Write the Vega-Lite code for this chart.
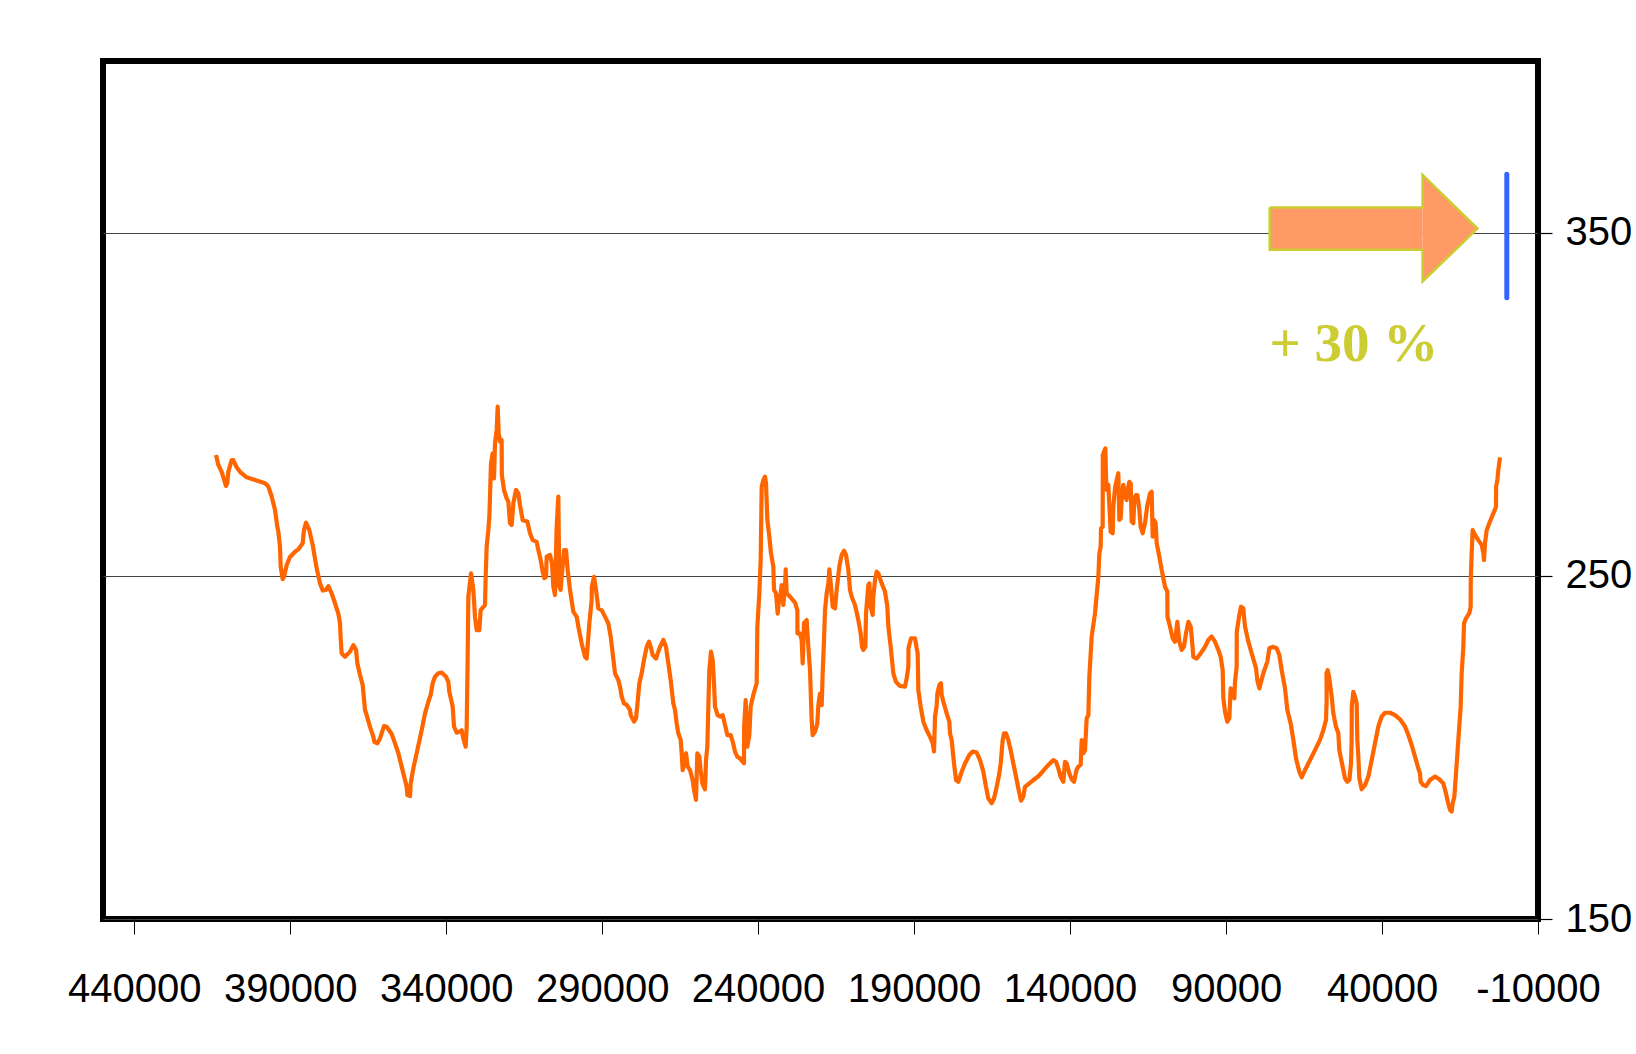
{
  "$schema": "https://vega.github.io/schema/vega-lite/v6.json",
  "width": 1435,
  "height": 858,
  "autosize": "none",
  "padding": {"left": 103, "top": 61, "right": 98, "bottom": 135},
  "background": "white",
  "config": {
    "view": {"stroke": "black", "strokeWidth": 6},
    "axis": {"labelFont": "Liberation Sans, Arial, sans-serif", "labelFontSize": 40, "labelColor": "black", "tickColor": "black", "domain": false, "title": null}
  },
  "datasets": {
    "co2": [
      {"age":413777,"co2":285.2},{"age":413029,"co2":282.3},{"age":411960,"co2":280.3},{"age":410571,"co2":276.2},{"age":410144,"co2":277.0},{"age":409823,"co2":280.3},{"age":408755,"co2":283.7},{"age":408220,"co2":283.7},{"age":407152,"co2":281.6},{"age":406083,"co2":280.3},{"age":403946,"co2":278.7},{"age":401275,"co2":277.9},{"age":398069,"co2":277.0},{"age":397001,"co2":276.0},{"age":395932,"co2":273.1},{"age":394864,"co2":269.2},{"age":394116,"co2":264.3},{"age":393795,"co2":262.9},{"age":393261,"co2":258.5},{"age":393047,"co2":252.7},{"age":392406,"co2":249.0},{"age":391978,"co2":249.7},{"age":391124,"co2":253.1},{"age":390055,"co2":255.5},{"age":388452,"co2":257.0},{"age":387384,"co2":257.7},{"age":385995,"co2":259.5},{"age":385567,"co2":263.3},{"age":384926,"co2":265.5},{"age":383858,"co2":263.3},{"age":382789,"co2":259.0},{"age":381507,"co2":252.2},{"age":380438,"co2":247.8},{"age":379583,"co2":245.7},{"age":378515,"co2":245.9},{"age":377767,"co2":247.0},{"age":376698,"co2":244.9},{"age":375630,"co2":242.0},{"age":374561,"co2":239.0},{"age":374027,"co2":236.2},{"age":373813,"co2":231.8},{"age":373493,"co2":227.4},{"age":372424,"co2":226.4},{"age":370821,"co2":227.9},{"age":369753,"co2":229.8},{"age":368898,"co2":228.5},{"age":368471,"co2":224.5},{"age":367616,"co2":221.1},{"age":366761,"co2":218.2},{"age":366013,"co2":210.9},{"age":365479,"co2":209.4},{"age":364410,"co2":206.0},{"age":363342,"co2":203.1},{"age":363021,"co2":201.6},{"age":362059,"co2":201.2},{"age":361204,"co2":202.6},{"age":359922,"co2":206.2},{"age":359067,"co2":206.0},{"age":357465,"co2":203.9},{"age":356396,"co2":201.2},{"age":355328,"co2":198.3},{"age":354259,"co2":194.4},{"age":353191,"co2":190.5},{"age":352657,"co2":188.5},{"age":352443,"co2":186.1},{"age":351588,"co2":185.8},{"age":351374,"co2":189.5},{"age":350519,"co2":193.9},{"age":349237,"co2":199.2},{"age":347848,"co2":205.0},{"age":346779,"co2":209.9},{"age":345711,"co2":213.3},{"age":344963,"co2":215.3},{"age":344322,"co2":218.7},{"age":343574,"co2":220.6},{"age":342506,"co2":221.6},{"age":341437,"co2":221.8},{"age":340048,"co2":220.6},{"age":339300,"co2":219.1},{"age":338980,"co2":216.2},{"age":337911,"co2":211.9},{"age":337484,"co2":206.1},{"age":336629,"co2":204.3},{"age":335560,"co2":204.6},{"age":335026,"co2":205.0},{"age":334491,"co2":202.6},{"age":333743,"co2":200.2},{"age":333420,"co2":206.0},{"age":333100,"co2":226.4},{"age":332889,"co2":243.9},{"age":332034,"co2":250.7},{"age":331286,"co2":245.9},{"age":330752,"co2":238.1},{"age":330218,"co2":234.2},{"age":329363,"co2":234.2},{"age":328935,"co2":240.0},{"age":327546,"co2":241.5},{"age":327332,"co2":249.8},{"age":327012,"co2":258.5},{"age":326477,"co2":263.3},{"age":326157,"co2":267.2},{"age":325943,"co2":273.1},{"age":325623,"co2":282.8},{"age":325088,"co2":285.7},{"age":324661,"co2":278.4},{"age":324340,"co2":288.6},{"age":323806,"co2":292.5},{"age":323486,"co2":299.3},{"age":323165,"co2":291.5},{"age":322737,"co2":289.1},{"age":322203,"co2":289.6},{"age":322150,"co2":279.4},{"age":321455,"co2":275.0},{"age":320600,"co2":272.6},{"age":320066,"co2":271.6},{"age":319532,"co2":265.3},{"age":318997,"co2":264.8},{"age":318463,"co2":271.1},{"age":317608,"co2":275.0},{"age":316860,"co2":274.0},{"age":316326,"co2":270.6},{"age":315471,"co2":266.2},{"age":313975,"co2":265.8},{"age":313120,"co2":262.4},{"age":312265,"co2":260.4},{"age":310983,"co2":259.9},{"age":310449,"co2":257.5},{"age":309701,"co2":254.6},{"age":309060,"co2":251.2},{"age":308525,"co2":249.3},{"age":307991,"co2":249.7},{"age":307777,"co2":255.6},{"age":306709,"co2":256.1},{"age":306068,"co2":253.6},{"age":305640,"co2":246.8},{"age":305106,"co2":244.4},{"age":304572,"co2":264.3},{"age":304038,"co2":273.1},{"age":303716,"co2":246.8},{"age":303289,"co2":245.9},{"age":302968,"co2":249.7},{"age":302220,"co2":257.5},{"age":301579,"co2":257.5},{"age":301045,"co2":251.7},{"age":300297,"co2":245.9},{"age":299228,"co2":239.5},{"age":298160,"co2":238.1},{"age":297625,"co2":235.2},{"age":296557,"co2":230.3},{"age":295489,"co2":226.4},{"age":294955,"co2":225.9},{"age":294100,"co2":236.1},{"age":293352,"co2":242.9},{"age":293300,"co2":246.8},{"age":292604,"co2":249.7},{"age":291963,"co2":245.9},{"age":291215,"co2":240.5},{"age":290147,"co2":240.0},{"age":289078,"co2":238.1},{"age":288010,"co2":236.1},{"age":287262,"co2":232.3},{"age":286620,"co2":227.4},{"age":285872,"co2":221.6},{"age":284803,"co2":219.6},{"age":284269,"co2":217.7},{"age":283735,"co2":214.8},{"age":282987,"co2":212.8},{"age":282132,"co2":212.4},{"age":281063,"co2":210.9},{"age":280849,"co2":209.4},{"age":279781,"co2":207.5},{"age":279140,"co2":208.5},{"age":278712,"co2":212.3},{"age":278071,"co2":218.7},{"age":277323,"co2":221.6},{"age":276575,"co2":225.5},{"age":275720,"co2":229.3},{"age":274972,"co2":230.8},{"age":274438,"co2":229.3},{"age":273799,"co2":226.9},{"age":272731,"co2":225.9},{"age":271449,"co2":229.3},{"age":270380,"co2":231.3},{"age":269525,"co2":229.3},{"age":269098,"co2":226.4},{"age":268778,"co2":224.5},{"age":268030,"co2":219.6},{"age":267175,"co2":212.8},{"age":266640,"co2":210.9},{"age":266106,"co2":207.0},{"age":265572,"co2":204.1},{"age":264824,"co2":202.2},{"age":264503,"co2":198.3},{"age":264183,"co2":193.4},{"age":263649,"co2":195.4},{"age":263114,"co2":198.3},{"age":262580,"co2":194.4},{"age":261832,"co2":193.4},{"age":260977,"co2":190.5},{"age":260550,"co2":187.6},{"age":259909,"co2":184.7},{"age":259482,"co2":198.3},{"age":258840,"co2":197.3},{"age":258413,"co2":193.4},{"age":257879,"co2":189.5},{"age":257024,"co2":187.8},{"age":256703,"co2":196.3},{"age":256276,"co2":200.2},{"age":255955,"co2":211.9},{"age":255634,"co2":222.5},{"age":255100,"co2":227.9},{"age":254565,"co2":225.5},{"age":254138,"co2":218.7},{"age":253817,"co2":211.9},{"age":252962,"co2":209.4},{"age":252214,"co2":209.0},{"age":251359,"co2":209.4},{"age":250611,"co2":206.5},{"age":249863,"co2":203.6},{"age":248795,"co2":203.6},{"age":248154,"co2":201.7},{"age":247406,"co2":198.8},{"age":246658,"co2":197.3},{"age":245803,"co2":196.8},{"age":244949,"co2":195.8},{"age":244521,"co2":195.4},{"age":244480,"co2":206.0},{"age":243988,"co2":213.8},{"age":243453,"co2":200.2},{"age":242812,"co2":203.6},{"age":242385,"co2":211.9},{"age":241530,"co2":215.3},{"age":240461,"co2":218.7},{"age":240247,"co2":235.2},{"age":239606,"co2":244.9},{"age":239179,"co2":254.6},{"age":238858,"co2":275.9},{"age":238324,"co2":277.9},{"age":237789,"co2":278.9},{"age":237469,"co2":276.9},{"age":237041,"co2":266.3},{"age":236400,"co2":261.4},{"age":235866,"co2":256.5},{"age":235118,"co2":252.7},{"age":234904,"co2":245.9},{"age":234263,"co2":244.9},{"age":233729,"co2":239.0},{"age":233301,"co2":242.9},{"age":232767,"co2":244.9},{"age":232446,"co2":247.3},{"age":231912,"co2":241.5},{"age":231378,"co2":246.8},{"age":231164,"co2":251.9},{"age":230843,"co2":244.9},{"age":229775,"co2":243.9},{"age":228172,"co2":242.2},{"age":227424,"co2":240.0},{"age":227380,"co2":233.2},{"age":226569,"co2":233.2},{"age":226035,"co2":231.3},{"age":225714,"co2":224.5},{"age":225287,"co2":236.2},{"age":224432,"co2":237.1},{"age":223898,"co2":229.3},{"age":223364,"co2":222.5},{"age":222829,"co2":208.0},{"age":222509,"co2":203.6},{"age":221761,"co2":204.6},{"age":221013,"co2":207.0},{"age":220692,"co2":212.3},{"age":220158,"co2":215.7},{"age":219623,"co2":212.3},{"age":219303,"co2":221.6},{"age":218876,"co2":231.3},{"age":218555,"co2":240.0},{"age":218021,"co2":244.9},{"age":217486,"co2":247.8},{"age":217166,"co2":251.9},{"age":216632,"co2":246.8},{"age":216097,"co2":241.0},{"age":215349,"co2":240.5},{"age":214815,"co2":245.9},{"age":213960,"co2":252.7},{"age":213212,"co2":256.1},{"age":212464,"co2":257.3},{"age":211823,"co2":256.1},{"age":211075,"co2":251.7},{"age":210540,"co2":245.9},{"age":210006,"co2":243.9},{"age":208938,"co2":241.5},{"age":207869,"co2":237.1},{"age":207121,"co2":233.2},{"age":206694,"co2":229.3},{"age":206267,"co2":228.4},{"age":205626,"co2":229.3},{"age":205412,"co2":239.1},{"age":204664,"co2":247.3},{"age":204343,"co2":247.8},{"age":203916,"co2":241.0},{"age":203275,"co2":238.6},{"age":203061,"co2":243.9},{"age":202527,"co2":248.8},{"age":201992,"co2":251.2},{"age":201458,"co2":250.7},{"age":200389,"co2":247.8},{"age":199321,"co2":245.4},{"age":198573,"co2":241.0},{"age":198252,"co2":235.2},{"age":197504,"co2":229.3},{"age":196649,"co2":221.5},{"age":195794,"co2":219.1},{"age":194512,"co2":217.9},{"age":192909,"co2":217.7},{"age":192375,"co2":220.1},{"age":191840,"co2":223.5},{"age":191800,"co2":228.9},{"age":190986,"co2":231.8},{"age":189704,"co2":231.8},{"age":189169,"co2":228.9},{"age":188849,"co2":227.4},{"age":188635,"co2":216.7},{"age":187887,"co2":211.9},{"age":187032,"co2":207.5},{"age":185963,"co2":205.0},{"age":184895,"co2":203.1},{"age":184040,"co2":201.2},{"age":183613,"co2":198.8},{"age":183293,"co2":208.9},{"age":182758,"co2":212.3},{"age":182544,"co2":215.7},{"age":181903,"co2":218.2},{"age":181369,"co2":218.7},{"age":181155,"co2":215.3},{"age":180620,"co2":213.3},{"age":179552,"co2":209.9},{"age":178697,"co2":207.5},{"age":178483,"co2":204.1},{"age":177949,"co2":202.1},{"age":177201,"co2":195.3},{"age":176560,"co2":190.5},{"age":175812,"co2":190.0},{"age":174744,"co2":192.9},{"age":173675,"co2":195.3},{"age":172286,"co2":197.8},{"age":171218,"co2":198.8},{"age":169935,"co2":198.5},{"age":168867,"co2":196.3},{"age":167798,"co2":192.9},{"age":166943,"co2":188.5},{"age":166195,"co2":185.1},{"age":165127,"co2":183.7},{"age":164379,"co2":185.1},{"age":163524,"co2":188.5},{"age":162669,"co2":192.4},{"age":162242,"co2":195.3},{"age":161601,"co2":202.1},{"age":161174,"co2":204.1},{"age":160533,"co2":204.1},{"age":159785,"co2":202.1},{"age":159037,"co2":199.2},{"age":158182,"co2":195.3},{"age":157114,"co2":190.5},{"age":156259,"co2":186.6},{"age":155725,"co2":184.5},{"age":154977,"co2":185.7},{"age":154442,"co2":188.5},{"age":153374,"co2":189.3},{"age":151771,"co2":190.5},{"age":150168,"co2":191.6},{"age":148565,"co2":193.2},{"age":146962,"co2":194.9},{"age":145359,"co2":196.3},{"age":144504,"co2":195.8},{"age":143756,"co2":193.9},{"age":143008,"co2":191.4},{"age":142154,"co2":190.0},{"age":141619,"co2":195.8},{"age":141085,"co2":195.3},{"age":140230,"co2":192.4},{"age":139482,"co2":190.7},{"age":138734,"co2":190.0},{"age":137880,"co2":193.6},{"age":137345,"co2":194.4},{"age":136597,"co2":194.9},{"age":136277,"co2":202.1},{"age":135743,"co2":198.3},{"age":135208,"co2":199.2},{"age":134674,"co2":208.5},{"age":134140,"co2":209.4},{"age":133821,"co2":220.6},{"age":133073,"co2":232.3},{"age":132005,"co2":239.1},{"age":130936,"co2":249.7},{"age":130616,"co2":256.5},{"age":130189,"co2":258.5},{"age":130082,"co2":263.8},{"age":129547,"co2":264.3},{"age":129500,"co2":285.2},{"age":129120,"co2":286.2},{"age":128693,"co2":287.1},{"age":128479,"co2":278.9},{"age":128265,"co2":275.0},{"age":127731,"co2":276.5},{"age":127410,"co2":270.6},{"age":126983,"co2":262.8},{"age":126342,"co2":262.4},{"age":126128,"co2":270.1},{"age":125594,"co2":275.5},{"age":125059,"co2":277.9},{"age":124525,"co2":279.9},{"age":124204,"co2":266.3},{"age":123777,"co2":266.7},{"age":123456,"co2":272.1},{"age":122922,"co2":276.5},{"age":122388,"co2":273.5},{"age":121854,"co2":272.1},{"age":121640,"co2":274.5},{"age":120999,"co2":277.4},{"age":120571,"co2":276.9},{"age":120251,"co2":265.8},{"age":119717,"co2":265.3},{"age":119396,"co2":272.6},{"age":118862,"co2":273.5},{"age":118435,"co2":273.5},{"age":117794,"co2":269.2},{"age":117366,"co2":264.3},{"age":116725,"co2":262.4},{"age":115977,"co2":265.3},{"age":115229,"co2":270.6},{"age":114375,"co2":274.0},{"age":113841,"co2":274.5},{"age":113520,"co2":261.4},{"age":113093,"co2":266.3},{"age":112559,"co2":265.3},{"age":112237,"co2":259.5},{"age":111383,"co2":255.6},{"age":110635,"co2":251.7},{"age":109567,"co2":246.8},{"age":108819,"co2":245.4},{"age":108780,"co2":238.1},{"age":107964,"co2":235.2},{"age":107110,"co2":231.8},{"age":106361,"co2":230.8},{"age":105613,"co2":236.6},{"age":104972,"co2":230.8},{"age":104225,"co2":228.4},{"age":103477,"co2":229.4},{"age":102835,"co2":233.2},{"age":102087,"co2":236.6},{"age":101339,"co2":235.2},{"age":100912,"co2":231.3},{"age":100485,"co2":226.4},{"age":99416,"co2":225.9},{"age":98134,"co2":227.4},{"age":96745,"co2":229.3},{"age":95677,"co2":231.3},{"age":94608,"co2":232.3},{"age":93540,"co2":230.8},{"age":92471,"co2":228.4},{"age":91723,"co2":226.4},{"age":91082,"co2":222.5},{"age":90868,"co2":214.3},{"age":90334,"co2":210.4},{"age":89586,"co2":207.5},{"age":88945,"co2":208.5},{"age":88517,"co2":217.2},{"age":87876,"co2":216.2},{"age":87342,"co2":214.3},{"age":87128,"co2":219.1},{"age":86594,"co2":223.5},{"age":86560,"co2":233.7},{"age":85739,"co2":238.6},{"age":85205,"co2":241.0},{"age":84457,"co2":240.5},{"age":84243,"co2":238.1},{"age":83922,"co2":235.2},{"age":82854,"co2":230.8},{"age":81465,"co2":226.4},{"age":80396,"co2":223.1},{"age":79969,"co2":219.6},{"age":79328,"co2":217.2},{"age":78901,"co2":218.7},{"age":78046,"co2":221.6},{"age":76764,"co2":225.0},{"age":76123,"co2":228.9},{"age":75054,"co2":229.3},{"age":73772,"co2":228.9},{"age":72917,"co2":226.9},{"age":72169,"co2":222.5},{"age":71101,"co2":217.2},{"age":70353,"co2":210.9},{"age":69284,"co2":207.0},{"age":68429,"co2":202.2},{"age":67575,"co2":196.8},{"age":66506,"co2":192.9},{"age":65758,"co2":191.3},{"age":64690,"co2":193.4},{"age":63087,"co2":196.3},{"age":61484,"co2":199.2},{"age":59881,"co2":202.2},{"age":58813,"co2":205.0},{"age":57958,"co2":208.0},{"age":57744,"co2":213.8},{"age":57800,"co2":221.6},{"age":57424,"co2":222.5},{"age":56889,"co2":220.1},{"age":56141,"co2":214.8},{"age":55607,"co2":209.9},{"age":54752,"co2":206.0},{"age":54004,"co2":204.1},{"age":53684,"co2":199.2},{"age":52936,"co2":195.8},{"age":51867,"co2":191.0},{"age":51119,"co2":190.0},{"age":50478,"co2":190.5},{"age":49944,"co2":195.3},{"age":49730,"co2":202.2},{"age":49700,"co2":211.8},{"age":49196,"co2":216.2},{"age":48661,"co2":214.8},{"age":48127,"co2":212.8},{"age":47913,"co2":202.2},{"age":47592,"co2":197.3},{"age":47272,"co2":191.0},{"age":46524,"co2":187.8},{"age":45456,"co2":189.0},{"age":44387,"co2":191.5},{"age":43319,"co2":196.3},{"age":42250,"co2":201.2},{"age":41182,"co2":206.1},{"age":40113,"co2":209.0},{"age":39045,"co2":210.1},{"age":37442,"co2":210.1},{"age":35839,"co2":209.4},{"age":34236,"co2":208.2},{"age":32633,"co2":206.1},{"age":31565,"co2":203.6},{"age":30496,"co2":200.7},{"age":29428,"co2":197.3},{"age":28359,"co2":193.9},{"age":27825,"co2":192.4},{"age":27611,"co2":190.0},{"age":26756,"co2":189.0},{"age":25902,"co2":188.7},{"age":24620,"co2":190.5},{"age":23017,"co2":191.5},{"age":21628,"co2":190.7},{"age":20345,"co2":189.5},{"age":19491,"co2":186.6},{"age":18743,"co2":183.5},{"age":18209,"co2":181.8},{"age":17674,"co2":181.3},{"age":17354,"co2":183.7},{"age":16820,"co2":185.6},{"age":16286,"co2":192.4},{"age":15538,"co2":202.2},{"age":14790,"co2":211.8},{"age":14469,"co2":221.6},{"age":13935,"co2":229.3},{"age":13721,"co2":236.1},{"age":13080,"co2":237.6},{"age":12012,"co2":239.1},{"age":11584,"co2":241.0},{"age":11550,"co2":248.8},{"age":11264,"co2":256.6},{"age":10943,"co2":263.3},{"age":10195,"co2":261.9},{"age":9127,"co2":260.4},{"age":8058,"co2":259.0},{"age":7524,"co2":256.6},{"age":7310,"co2":254.6},{"age":6990,"co2":259.5},{"age":6456,"co2":263.3},{"age":5387,"co2":265.8},{"age":4319,"co2":268.2},{"age":3464,"co2":270.1},{"age":3430,"co2":275.9},{"age":3037,"co2":277.9},{"age":2716,"co2":280.8},{"age":2182,"co2":284.5}
    ],
    "shaft": [{"from": 76000, "to": 27000, "lo": 345.0, "hi": 357.3}],
    "head": [{"age": 27000, "lo": 335.75, "hi": 366.8}, {"age": 9400, "lo": 351.2, "hi": 351.2}],
    "outline": [
      {"age": 76000, "v": 357.3}, {"age": 27000, "v": 357.3}, {"age": 27000, "v": 366.8}, {"age": 9400, "v": 351.2},
      {"age": 27000, "v": 335.75}, {"age": 27000, "v": 345.0}, {"age": 76000, "v": 345.0}, {"age": 76000, "v": 357.3}
    ],
    "modern": [{"age": 0, "lo": 331, "hi": 367}],
    "note": [{"age": 49000, "v": 312.5, "label": "+ 30 %"}]
  },
  "layer": [
    {
      "data": {"name": "co2"},
      "mark": {"type": "line", "color": "#FF6600", "strokeWidth": 4.2, "strokeJoin": "round"},
      "encoding": {
        "x": {"field": "age", "type": "quantitative", "title": null,
              "scale": {"domain": [-10000, 450000], "reverse": true, "nice": false, "zero": false},
              "axis": {"values": [440000, 390000, 340000, 290000, 240000, 190000, 140000, 90000, 40000, -10000], "labelExpr": "datum.value < 0 ? '-' + abs(datum.value) : '' + datum.value", "grid": false, "tickSize": 15, "tickWidth": 1, "labelPadding": 35, "labelFlush": false, "labelOverlap": false}},
        "y": {"field": "co2", "type": "quantitative", "title": null,
              "scale": {"domain": [150, 400], "nice": false, "zero": false},
              "axis": {"orient": "right", "values": [150, 250, 350], "grid": true, "gridColor": "#444444", "gridWidth": 1.2, "tickSize": 14, "tickWidth": 1.2, "labelPadding": 13, "labelFlush": false, "labelOverlap": false}},
        "order": {"value": null}
      }
    },
    {
      "data": {"name": "shaft"},
      "mark": {"type": "rect", "color": "#FF9966", "strokeWidth": 0},
      "encoding": {
        "x": {"field": "from", "type": "quantitative", "title": null},
        "x2": {"field": "to"},
        "y": {"field": "lo", "type": "quantitative", "title": null},
        "y2": {"field": "hi"}
      }
    },
    {
      "data": {"name": "head"},
      "mark": {"type": "area", "color": "#FF9966", "orient": "vertical"},
      "encoding": {
        "x": {"field": "age", "type": "quantitative", "title": null},
        "y": {"field": "lo", "type": "quantitative", "title": null},
        "y2": {"field": "hi"}
      }
    },
    {
      "data": {"name": "outline"},
      "mark": {"type": "line", "color": "#CCCC33", "strokeWidth": 2.5, "strokeJoin": "miter"},
      "encoding": {
        "x": {"field": "age", "type": "quantitative", "title": null},
        "y": {"field": "v", "type": "quantitative", "title": null},
        "order": {"value": null}
      }
    },
    {
      "data": {"name": "modern"},
      "mark": {"type": "rule", "color": "#3366FF", "strokeWidth": 5, "strokeCap": "round"},
      "encoding": {
        "x": {"field": "age", "type": "quantitative", "title": null},
        "y": {"field": "lo", "type": "quantitative", "title": null},
        "y2": {"field": "hi"}
      }
    },
    {
      "data": {"name": "note"},
      "mark": {"type": "text", "color": "#CCCC33", "font": "Liberation Serif, Times New Roman, serif", "fontWeight": "bold", "fontSize": 55, "align": "center", "baseline": "alphabetic"},
      "encoding": {
        "x": {"field": "age", "type": "quantitative", "title": null},
        "y": {"field": "v", "type": "quantitative", "title": null},
        "text": {"field": "label"}
      }
    }
  ]
}
